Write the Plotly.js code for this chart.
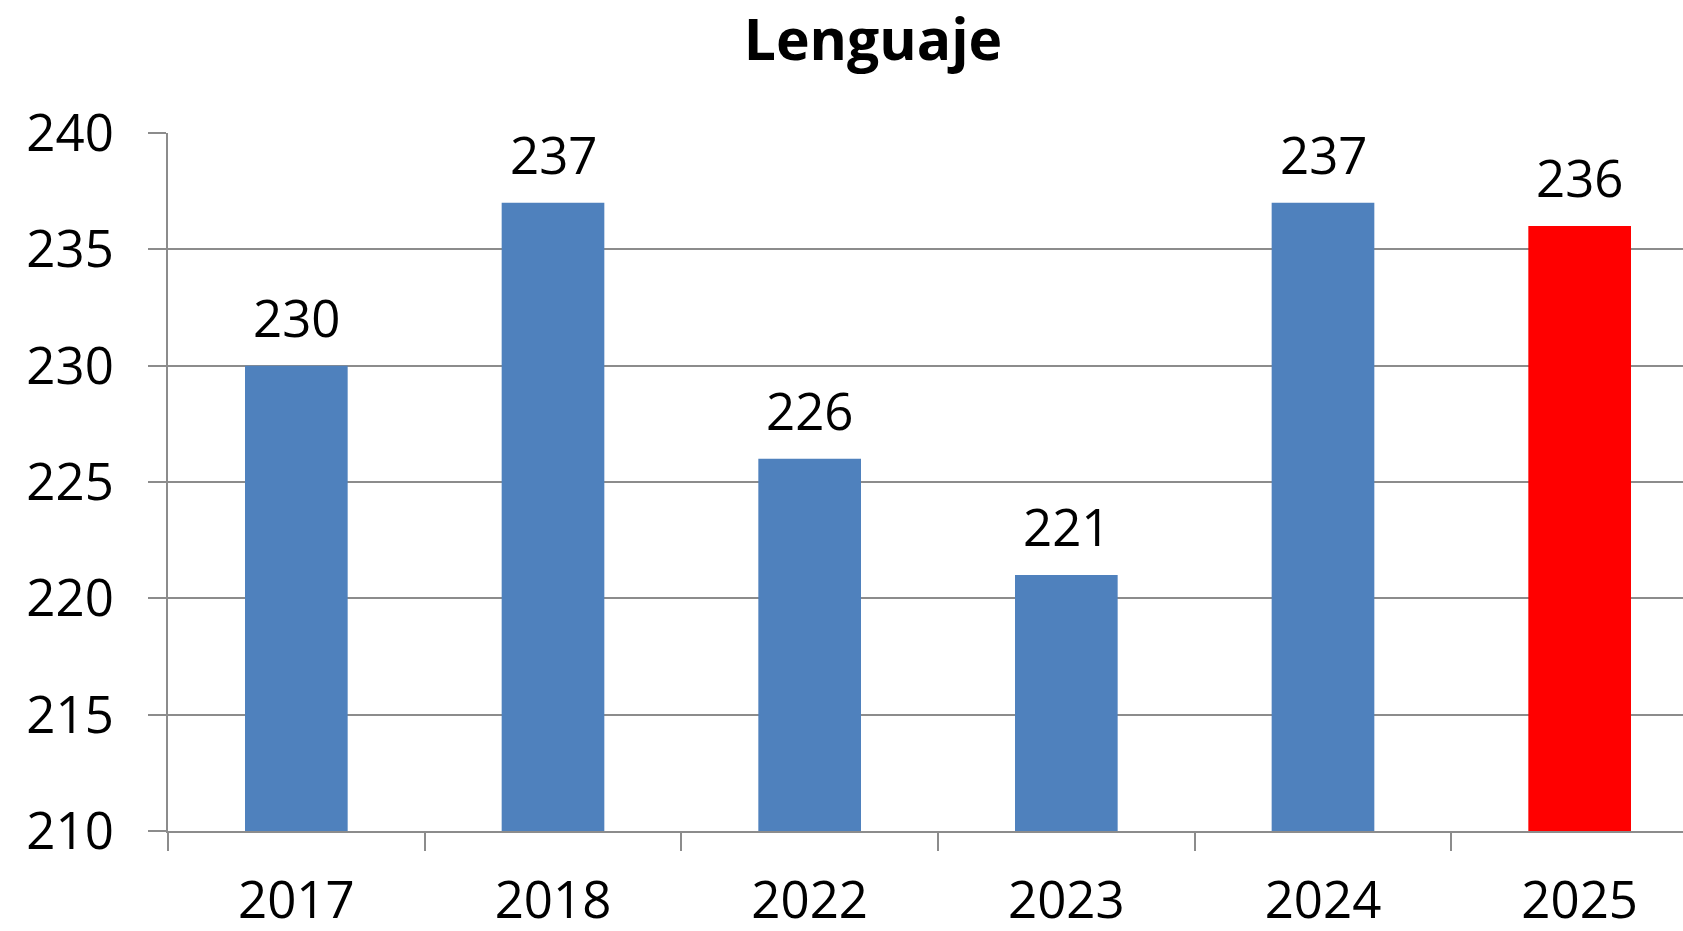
<!DOCTYPE html>
<html>
<head>
<meta charset="utf-8">
<script src="https://cdn.plot.ly/plotly-3.0.1.min.js"></script>
<style>html,body{margin:0;padding:0;background:#fff;}#chart{width:1683px;height:931px;}</style>
</head>
<body>
<div id="chart"></div>
<script>
const categories = ["2017", "2018", "2022", "2023", "2024", "2025"];
const values = [230, 237, 226, 221, 237, 236];
const barColors = ["#4F81BD", "#4F81BD", "#4F81BD", "#4F81BD", "#4F81BD", "#FF0000"];
const yTicks = [210, 215, 220, 225, 230, 235, 240];
const chartTitle = "Lenguaje";

const font = "Open Sans, Noto Sans, sans-serif";
const gray = "#8c8c8c";

const trace = {
  type: "bar",
  x: categories,
  y: values,
  width: 0.4,
  marker: {color: barColors, line: {width: 0}},
  hoverinfo: "skip"
};

const annotations = categories.map((c, i) => ({
  x: i, y: values[i], xref: "x", yref: "y",
  text: String(values[i]), showarrow: false,
  yanchor: "bottom", yshift: 12,
  font: {family: font, size: 51, color: "#000"}
}));

const layout = {
  width: 1683, height: 931,
  margin: {l: 168, r: 0, t: 133, b: 100},
  paper_bgcolor: "#fff", plot_bgcolor: "#fff",
  showlegend: false,
  title: {
    text: "<b>" + chartTitle + "</b>",
    x: 873/1683, xref: "container", xanchor: "center",
    y: 1 - 40/931, yref: "container", yanchor: "middle",
    font: {family: font, size: 57, color: "#000"}
  },
  xaxis: {
    type: "category",
    range: [-0.5, 5.5 - 25/256.7],
    tickson: "boundaries",
    ticks: "outside", ticklen: 18, tickwidth: 2, tickcolor: gray,
    showline: true, linecolor: gray, linewidth: 2,
    showgrid: false, zeroline: false,
    ticklabelstandoff: 24,
    tickfont: {family: font, size: 51, color: "#000"}
  },
  yaxis: {
    range: [210, 240],
    tickvals: yTicks,
    ticktext: yTicks.map(String),
    ticks: "outside", ticklen: 18, tickwidth: 2, tickcolor: gray,
    showline: true, linecolor: gray, linewidth: 2,
    showgrid: true, gridcolor: gray, gridwidth: 2,
    zeroline: false,
    ticklabelstandoff: 24,
    tickfont: {family: font, size: 51, color: "#000"}
  },
  annotations: annotations
};

Plotly.newPlot("chart", [trace], layout, {staticPlot: true, displayModeBar: false});
</script>
</body>
</html>
